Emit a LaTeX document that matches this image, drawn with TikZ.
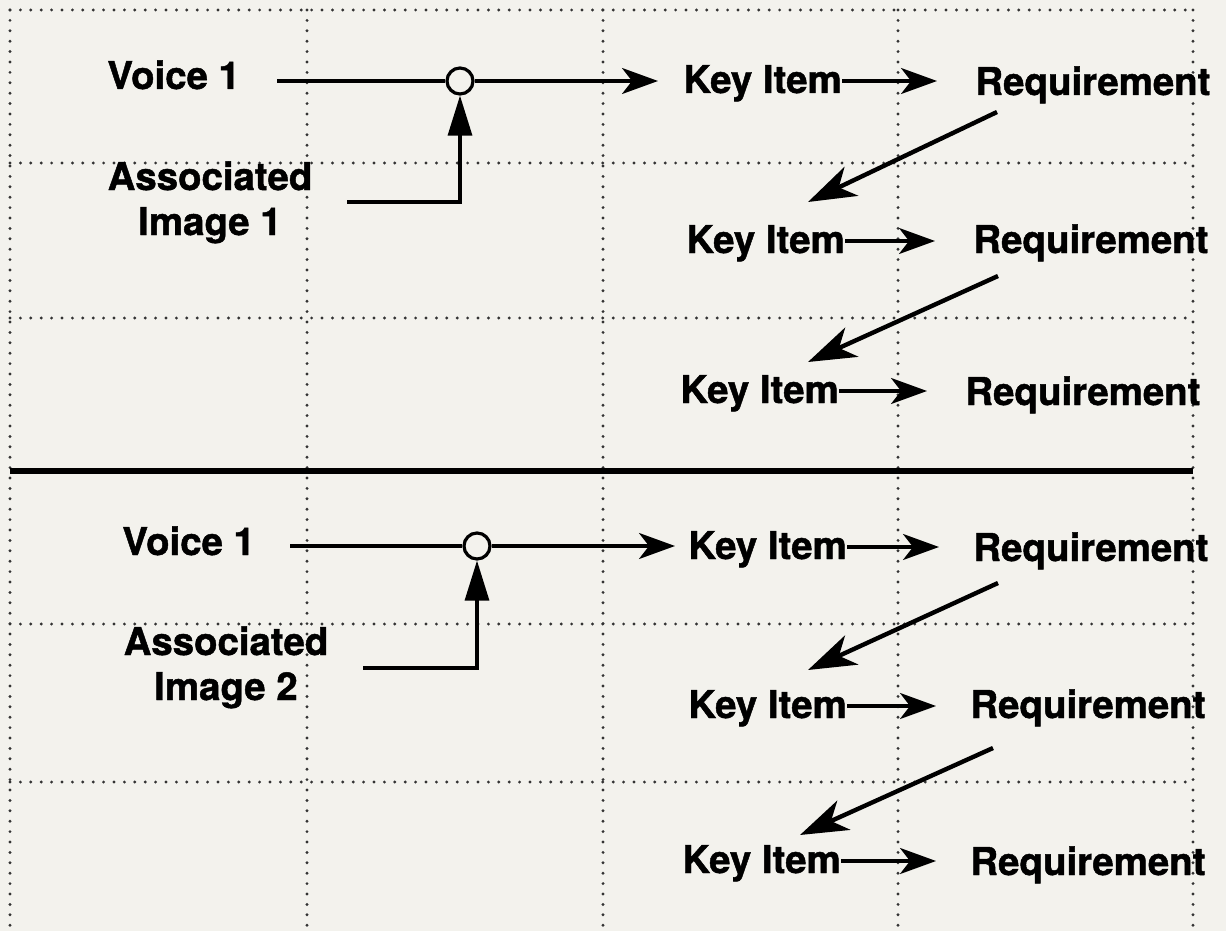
\documentclass[tikz,border=0pt]{standalone}
\usepackage{fontspec}
\setmainfont[BoldFeatures={FakeBold=1.2}]{TeX Gyre Heros}
\usetikzlibrary{arrows.meta}
\definecolor{paper}{RGB}{243,242,237}
\tikzset{
  lbl/.style={font=\fontsize{19.2}{22.5}\selectfont\bfseries, inner sep=0pt, anchor=base west},
  grid/.style={line width=1.6pt, line cap=round, dash pattern=on 0pt off 5.2pt, black!80},
  wire/.style={line width=1.6pt},
  flow/.style={wire, -{Stealth[length=18pt,width=13pt,inset=5pt]}},
  feed/.style={wire, -{Triangle[length=20pt,width=12pt]}},
  back/.style={line width=2.2pt, -{Stealth[length=24pt,width=16pt,inset=7pt]}},
  junct/.style={circle, draw, wire, fill=paper, minimum size=13pt, inner sep=0pt}
}
\begin{document}
\begin{tikzpicture}[x=0.5pt,y=-0.5pt]
  \fill[paper] (0,0) rectangle (1226,931);
  \useasboundingbox (0,0) rectangle (1226,931);
  %% Grid
  \foreach \gx in {10,307,603,898,1193}
    \draw[grid] (\gx,10) -- (\gx,931);
  \foreach \gy in {10,163,318,624,782}
    \draw[grid] (10,\gy) -- (1193,\gy);
  \draw[line width=2.6pt] (10,471) -- (1193,471);

  %% Upper half
  \node[lbl] (v1) at (107,89) {Voice 1};
  \node[lbl, anchor=north, align=center] (a1) at (210,161) {Associated\\Image 1};
  \node[junct] (j1) at (460,81) {};
  \coordinate (f1) at (347,202);
  \node[lbl] (k1) at (683,93) {Key Item};
  \node[lbl] (r1) at (975,95) {Requirement};
  \node[lbl] (k2) at (686,253) {Key Item};
  \node[lbl] (r2) at (973,253) {Requirement};
  \node[lbl] (k3) at (680,403) {Key Item};
  \node[lbl] (r3) at (965,405) {Requirement};

  \draw[wire, shorten >=18.5pt] (j1.west) -- (j1.west -| v1.east);
  \draw[flow, shorten >=12.5pt] (j1.east) -- (j1.east -| k1.west);
  \draw[feed] (f1) -| (j1.south);
  \foreach \k/\r in {k1/r1,k2/r2,k3/r3}
    \draw[flow, shorten >=19pt] ([yshift=6pt]\k.base east) -- ([yshift=6pt]\k.base east -| \r.west);
  \draw[back] ([xshift=11pt,yshift=-8.5pt]r1.base west) -- ([xshift=61pt,yshift=25.5pt]k2.base west);
  \draw[back] ([xshift=12.5pt,yshift=-11.5pt]r2.base west) -- ([xshift=64pt,yshift=20.5pt]k3.base west);

  %% Lower half
  \node[lbl] (v2) at (122,555) {Voice 1};
  \node[lbl, anchor=north, align=center] (a2) at (226,626) {Associated\\Image 2};
  \node[junct] (j2) at (477,546) {};
  \coordinate (f2) at (363,668);
  \node[lbl] (k4) at (688,559) {Key Item};
  \node[lbl] (r4) at (973,561) {Requirement};
  \node[lbl] (k5) at (688,718) {Key Item};
  \node[lbl] (r5) at (970,718) {Requirement};
  \node[lbl] (k6) at (682,873) {Key Item};
  \node[lbl] (r6) at (970,875) {Requirement};

  \draw[wire, shorten >=17.5pt] (j2.west) -- (j2.west -| v2.east);
  \draw[flow, shorten >=6.5pt] (j2.east) -- (j2.east -| k4.west);
  \draw[feed] (f2) -| (j2.south);
  \foreach \k/\r in {k4/r4,k5/r5,k6/r6}
    \draw[flow, shorten >=17pt] ([yshift=6pt]\k.base east) -- ([yshift=6pt]\k.base east -| \r.west);
  \draw[back] ([xshift=12.5pt,yshift=-11pt]r4.base west) -- ([xshift=60pt,yshift=24pt]k5.base west);
  \draw[back] ([xshift=11.5pt,yshift=-15pt]r5.base west) -- ([xshift=59pt,yshift=19pt]k6.base west);
\end{tikzpicture}
\end{document}
